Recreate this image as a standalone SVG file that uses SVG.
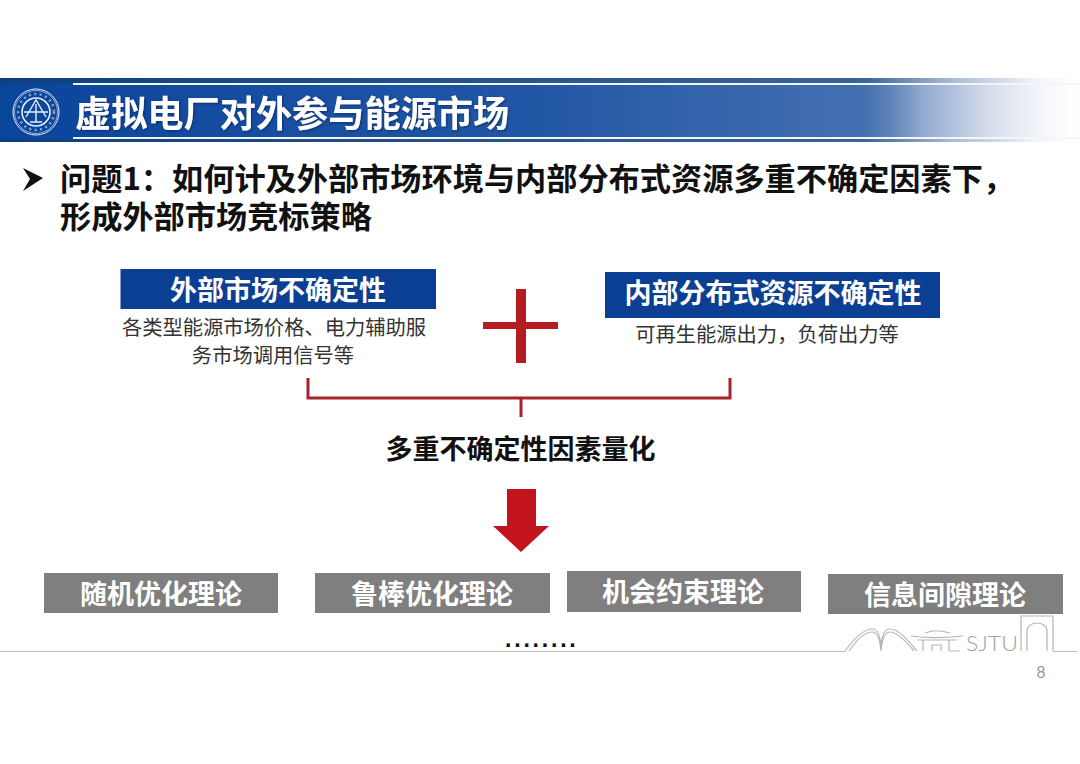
<svg xmlns="http://www.w3.org/2000/svg" width="1080" height="764" viewBox="0 0 1080 764">
<style>
text{font-family:"Noto Sans CJK SC","Noto Sans",sans-serif}
.b{font-weight:700}
.w{fill:#fff;font-weight:700;font-size:27px;text-anchor:middle}
.s{fill:#333;font-size:20.3px;text-anchor:middle}
.bx{fill:#0a3f94}
.g{fill:#7f7f7f}
.sk{fill:none;stroke:#b5b5b5;stroke-width:1.2}
.rg{fill:none;stroke:#e6eef8}
text.lat{font-family:"Liberation Sans",Arial,sans-serif}
text.thin{font-family:Lato,"Liberation Sans",sans-serif;font-weight:300}
</style>
<defs>
<linearGradient id="band" x1="0" y1="0" x2="1" y2="0">
<stop offset="0" stop-color="#0a459c"/>
<stop offset=".5" stop-color="#2257a6"/>
<stop offset=".8" stop-color="#4470b0"/>
<stop offset=".825" stop-color="#5f84ba"/>
<stop offset=".855" stop-color="#92aad0"/>
<stop offset=".915" stop-color="#d5dcea"/>
<stop offset=".97" stop-color="#f8f9fc"/>
<stop offset="1" stop-color="#fff"/>
</linearGradient>
<linearGradient id="edge" x1="0" y1="0" x2="1" y2="0">
<stop offset="0" stop-color="#0d3f80"/>
<stop offset=".8" stop-color="#3a6398"/>
<stop offset=".88" stop-color="#a8bad2"/>
<stop offset=".96" stop-color="#f2f4f8"/>
<stop offset="1" stop-color="#fff"/>
</linearGradient>
<filter id="sh" x="-5%" y="-20%" width="110%" height="140%"><feDropShadow dx="1" dy="1" stdDeviation=".8" flood-color="#08285c" flood-opacity=".8"/></filter>
</defs>
<rect width="1080" height="764" fill="#fff"/>
<g id="banner">
<rect x="0" y="78" width="1080" height="64" fill="url(#band)"/>
<rect x="0" y="78" width="1080" height="5" fill="url(#edge)"/>
<rect x="0" y="139" width="1080" height="3" fill="url(#edge)"/>
<rect x="73" y="83" width="1007" height="2" fill="#f2f6fb"/>
<rect x="73" y="137" width="1007" height="2" fill="#f2f6fb"/>
<g id="seal">
<circle cx="36" cy="112" r="23" class="rg" stroke-width="1"/>
<circle cx="36" cy="112" r="21.500" class="rg" stroke-width=".6"/>
<circle cx="36" cy="112" r="14" class="rg" stroke-width="1.600"/>
<path d="M26 117 36 100 46 117M24 112H48M36 104V122M30 122H42" class="rg" stroke-width="1.400"/>
<circle cx="36" cy="112" r="18" fill="none" stroke="#dfe8f5" stroke-width="2.400" stroke-dasharray="2 3.500" opacity=".6"/>
</g>
<text id="title" x="75" y="127" class="b" font-size="36.200" fill="#fff" filter="url(#sh)">虚拟电厂对外参与能源市场</text>
</g>
<g id="question">
<path d="M23 168 43 178 23 191 30 179Z" fill="#111"/>
<text class="b" font-size="31.200" fill="#111"><tspan x="60" y="190">问题1：</tspan><tspan x="172" y="190">如何计及外部市场环境与内部分布式资源多重不确定因素下，</tspan><tspan x="60" y="228">形成外部市场竞标策略</tspan></text>
</g>
<g id="node-external">
<rect class="bx" x="120.500" y="269" width="315.500" height="40"/>
<text class="w" x="278" y="300">外部市场不确定性</text>
<text class="s" x="274" y="335">各类型能源市场价格、电力辅助服</text>
<text class="s" x="273" y="363">务市场调用信号等</text>
</g>
<g id="node-internal">
<rect class="bx" x="605" y="272" width="335" height="46"/>
<text class="w" x="773" y="303">内部分布式资源不确定性</text>
<text class="s" x="767" y="342">可再生能源出力，负荷出力等</text>
</g>
<g id="plus"><path d="M516 289H526V322H558V329H526V363H516V329H483V322H516Z" fill="#b51c22"/></g>
<g id="connectors">
<path d="M308 378V398H730V378M521 398V417" fill="none" stroke="#a5232b" stroke-width="3"/>
<path d="M507 489H536V526H549L521 552 493 526H507Z" fill="#c3141d"/>
</g>
<g id="node-quant"><text x="520.500" y="459" class="b" font-size="27" text-anchor="middle" fill="#111">多重不确定性因素量化</text></g>
<g id="node-stochastic"><rect class="g" x="44" y="573" width="234" height="40"/><text class="w" x="161" y="604">随机优化理论</text></g>
<g id="node-robust"><rect class="g" x="315" y="573" width="235" height="40"/><text class="w" x="432" y="604">鲁棒优化理论</text></g>
<g id="node-chance"><rect class="g" x="567" y="571" width="234" height="41"/><text class="w" x="683" y="602">机会约束理论</text></g>
<g id="node-igdt"><rect class="g" x="828" y="574" width="235" height="40"/><text class="w" x="945" y="605">信息间隙理论</text></g>
<g id="dots"><text x="505" y="647" class="b lat" font-size="23" letter-spacing="2.800" fill="#111">........</text></g>
<g id="footer">
<path d="M0 651.500H845M1053 651.500H1078" fill="none" stroke="#bdbdbd" stroke-width="1.200"/>
<path class="sk" d="M845 651C856 636 864 629 872 629 878 629 881 638 881 651 881 638 884 629 890 629 898 629 906 638 917 651M849 651C858 638 865 632 872 632 877 632 880 640 881 651 882 640 885 632 890 632 897 632 905 640 914 651"/>
<path class="sk" d="M911 636C925 638 945 638 963 636M917 640 957 640M923 640V651M949 640V651M932 651V645H941V651M925 633 932 631M941 631 950 633M932 631H941M949 651H960"/>
<text x="966" y="651" class="thin" font-size="21" fill="#a0a0a0" textLength="52" lengthAdjust="spacingAndGlyphs">SJTU</text>
<path class="sk" d="M1021 651V616H1053V651M1027 651V631C1027 626 1032 623 1037 623 1042 623 1047 626 1047 631V651"/>
<text x="1041" y="678" class="lat" font-size="16" fill="#999" text-anchor="middle">8</text>
</g>
</svg>
